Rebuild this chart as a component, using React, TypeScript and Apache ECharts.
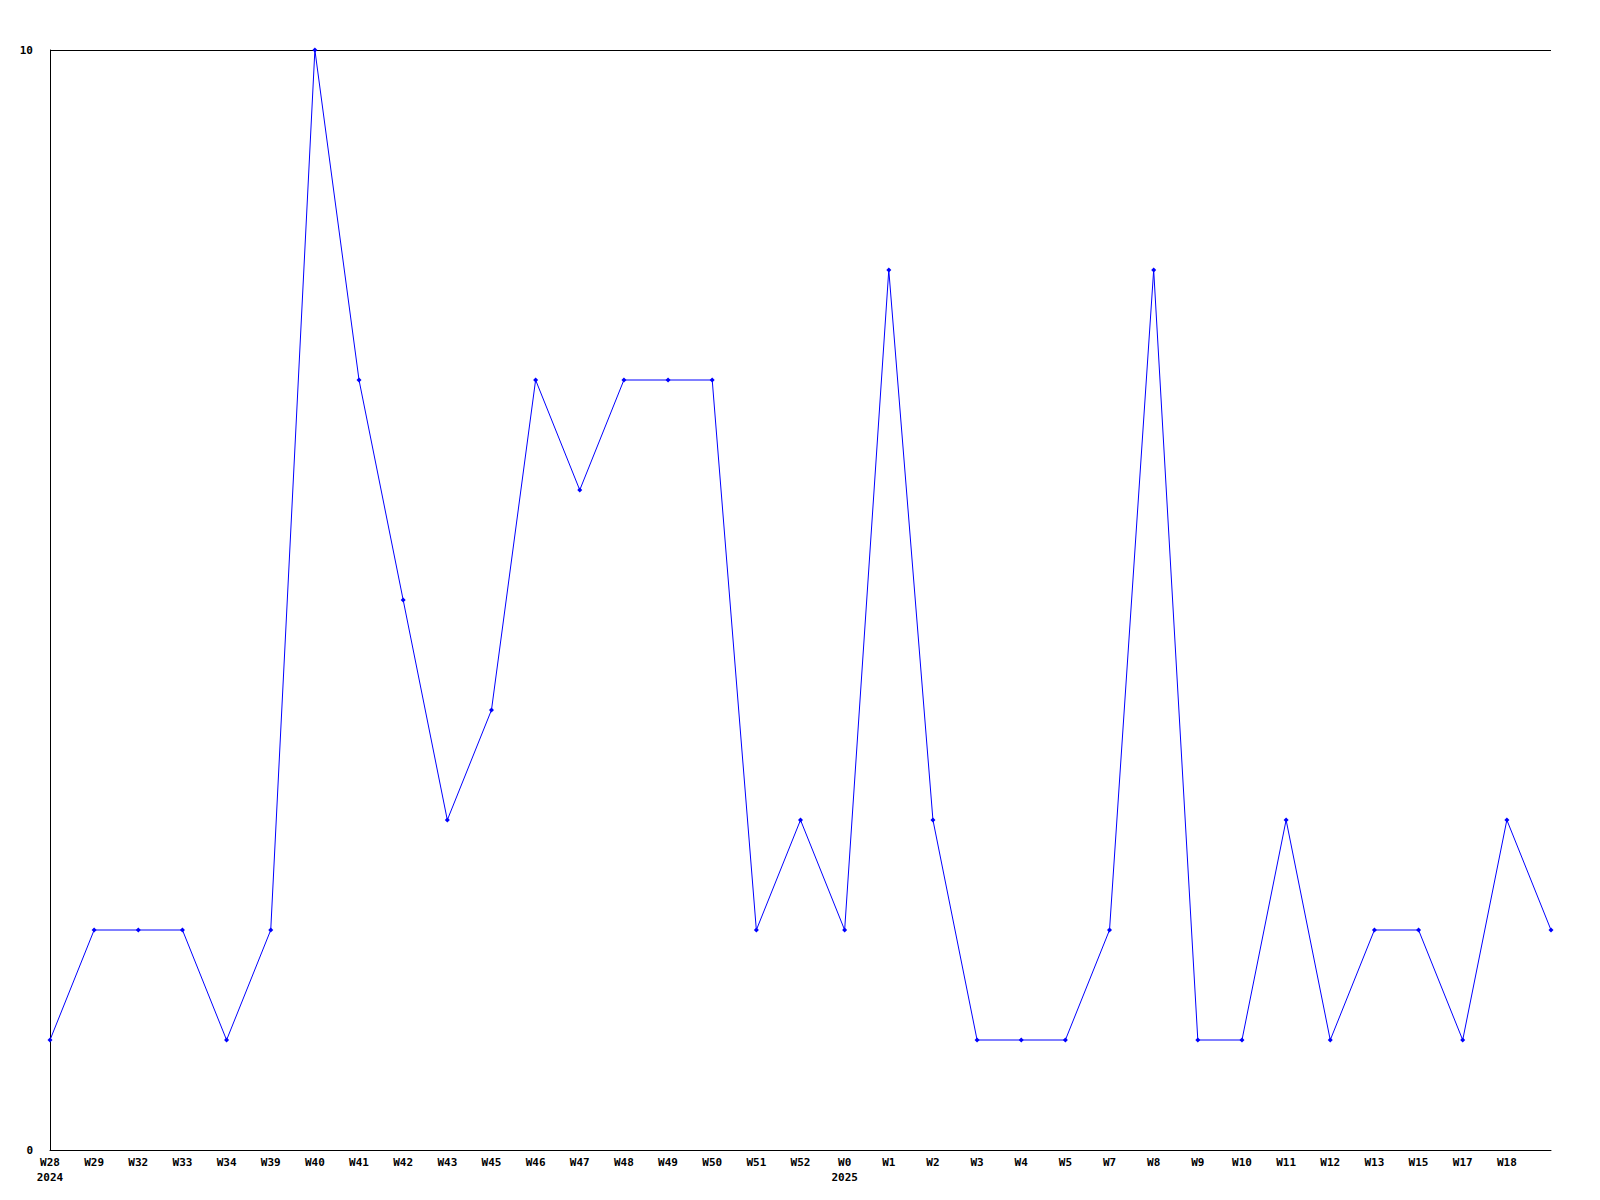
import React, { useEffect, useRef } from "react";
import * as echarts from "echarts";

const weeks = [
  "W28", "W29", "W32", "W33", "W34", "W39", "W40", "W41", "W42", "W43",
  "W45", "W46", "W47", "W48", "W49", "W50", "W51", "W52", "W0", "W1",
  "W2", "W3", "W4", "W5", "W7", "W8", "W9", "W10", "W11", "W12",
  "W13", "W15", "W17", "W18", "",
];
const yearLabels: Record<string, string> = { W28: "2024", W0: "2025" };
const values = [
  1, 2, 2, 2, 1, 2, 10, 7, 5, 3,
  4, 7, 6, 7, 7, 7, 2, 3, 2, 8,
  3, 1, 1, 1, 2, 8, 1, 1, 3, 1,
  2, 2, 1, 3, 2,
];
const yTicks = [0, 10];

export default function App() {
  const ref = useRef<HTMLDivElement>(null);
  useEffect(() => {
    if (!ref.current) return;
    const chart = echarts.init(ref.current, undefined, { renderer: "svg" });
    const font = "'DejaVu Sans Mono', monospace";
    chart.setOption({
      animation: false,
      backgroundColor: "#ffffff",
      grid: { left: 50, right: 49, top: 50, bottom: 50, containLabel: false },
      xAxis: {
        type: "category",
        data: weeks,
        boundaryGap: false,
        axisLine: { show: true, lineStyle: { color: "#000", width: 1 } },
        axisTick: { show: false },
        splitLine: { show: false },
        axisLabel: {
          interval: 0,
          margin: 5,
          color: "#000",
          fontFamily: font,
          fontWeight: "bold",
          fontSize: 11,
          lineHeight: 15,
          formatter: (v: string) => (yearLabels[v] ? v + "\n" + yearLabels[v] : v),
        },
      },
      yAxis: {
        type: "value",
        min: yTicks[0],
        max: yTicks[1],
        interval: 10,
        axisLine: { show: true, lineStyle: { color: "#000", width: 1 } },
        axisTick: { show: false },
        splitLine: { show: true, lineStyle: { color: "#000", width: 1 } },
        axisLabel: {
          margin: 17,
          color: "#000",
          fontFamily: font,
          fontWeight: "bold",
          fontSize: 11,
        },
      },
      series: [
        {
          type: "line",
          data: values,
          symbol: "diamond",
          symbolSize: 5,
          showAllSymbol: true,
          lineStyle: { color: "#0000ff", width: 1 },
          itemStyle: { color: "#0000ff" },
        },
      ],
    });
    return () => chart.dispose();
  }, []);
  return (
    <div
      ref={ref}
      style={{ position: "fixed", left: 0, top: 0, width: 1600, height: 1200, background: "#fff" }}
    />
  );
}
